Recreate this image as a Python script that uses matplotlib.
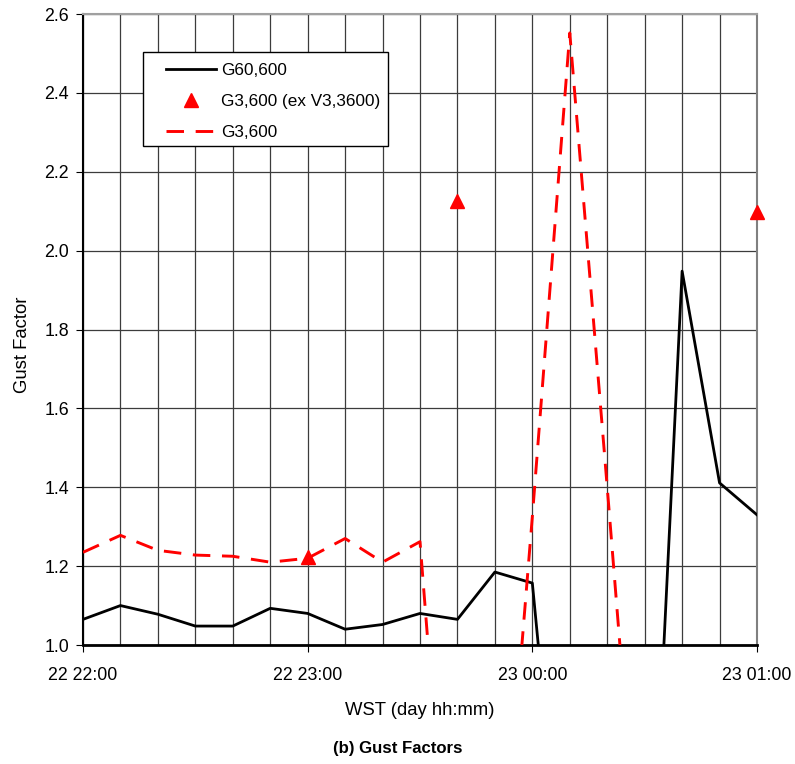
import numpy as np
import pandas as pd
import matplotlib
matplotlib.use('Agg')
import matplotlib.pyplot as plt
import matplotlib.dates as mdates
from matplotlib.patches import Rectangle

plt.rcParams['font.family'] = ['Liberation Sans', 'DejaVu Sans']

times = pd.date_range('2000-01-22 22:00', '2000-01-23 01:00', freq='10min')

g60_600 = [1.065, 1.100, 1.078, 1.048, 1.048, 1.093, 1.080, 1.040, 1.052, 1.080,
           1.065, 1.185, 1.157, 0.17, 0.10, 0.00, 1.948, 1.411, 1.330]
g3_600 = [1.235, 1.278, 1.240, 1.228, 1.225, 1.210, 1.220, 1.270, 1.210, 1.262,
          0.05, 0.16, 1.325, 2.552, 1.400, 0.22, np.nan, np.nan, np.nan]
tri_times = pd.to_datetime(['2000-01-22 23:00', '2000-01-22 23:40', '2000-01-23 01:00'])
g3_600_ex = [1.222, 2.126, 2.098]

W, H = 795, 764
fig = plt.figure(figsize=(W / 100, H / 100), dpi=100)
ax = fig.add_axes([83 / W, 1 - 645 / H, 674 / W, 631 / H])

ax.plot(times, g60_600, color='black', lw=2, label='G60,600', zorder=3)
ax.plot(tri_times, g3_600_ex, color='red', ls='none', marker='^', ms=10,
        label='G3,600 (ex V3,3600)', zorder=4, clip_on=False)
ax.plot(times, g3_600, color='red', lw=2.1, dashes=(6, 4), label='G3,600', zorder=3)

ax.set_xlim(times[0], times[-1])
ax.set_ylim(1.0, 2.6)
ax.set_yticks(np.arange(1.0, 2.61, 0.2))
ax.yaxis.set_major_formatter(plt.FormatStrFormatter('%.1f'))
ax.xaxis.set_major_locator(mdates.HourLocator())
ax.xaxis.set_minor_locator(mdates.MinuteLocator(byminute=[10, 20, 30, 40, 50]))
ax.xaxis.set_major_formatter(mdates.DateFormatter('%d %H:%M'))

ax.grid(True, which='both', color='#3c3c3c', lw=0.9)
ax.tick_params(axis='x', which='minor', length=0)
ax.tick_params(axis='both', which='major', labelsize=12.8, length=5, color='black')
ax.tick_params(axis='x', which='major', pad=11)
ax.tick_params(axis='y', which='major', pad=5)

ax.spines['left'].set_linewidth(1.5)
ax.spines['bottom'].set_linewidth(2)
ax.spines['top'].set_color('#a0a0a0')
ax.spines['right'].set_color('#808080')
ax.spines['top'].set_linewidth(1.5)
ax.spines['right'].set_linewidth(1.5)

ax.set_xlabel('WST (day hh:mm)', fontsize=13.3, labelpad=13)
ax.set_ylabel('Gust Factor', fontsize=13.3)
ax.yaxis.set_label_coords(-0.077, 0.475)
fig.text(0.5, 1 - 748 / H, '(b) Gust Factors', ha='center', va='center',
         fontsize=12.1, fontweight='bold')

# legend frame drawn separately so the inner padding matches the reference
box = Rectangle((143 / W, 1 - 146 / H), 245 / W, 94 / H, transform=fig.transFigure,
                facecolor='white', edgecolor='black', lw=1, zorder=5)
ax.add_patch(box)
leg = ax.legend(loc='upper left', bbox_to_anchor=(166 / W, 1 - 63 / H),
                bbox_transform=fig.transFigure, fontsize=12.3, frameon=False,
                handlelength=2.9, borderpad=0, labelspacing=0.95, handletextpad=0.3,
                borderaxespad=0)
leg.set_zorder(6)

fig.savefig('out.png', dpi=100)
